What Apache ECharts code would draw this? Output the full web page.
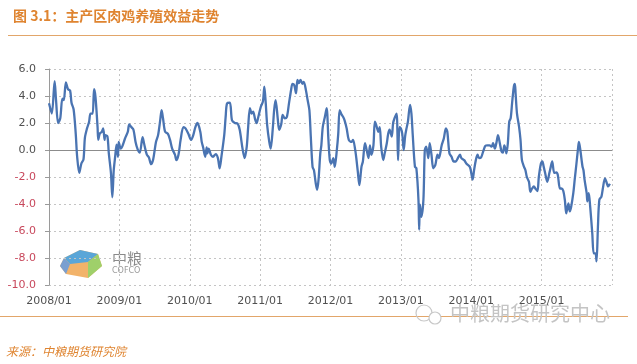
<!DOCTYPE html>
<html><head><meta charset="utf-8">
<script src="https://cdn.jsdelivr.net/npm/echarts@6/dist/echarts.min.js"></script>
<style>html,body{margin:0;padding:0;background:#fff}#c{width:637px;height:364px}</style>
</head><body><div id="c"></div>
<script>
const title = '图 3.1：主产区肉鸡养殖效益走势';
const source = '来源：中粮期货研究院';
const watermark = '中粮期货研究中心';
const yTicks = [6, 4, 2, 0, -2, -4, -6, -8, -10];
const xTickYears = [2008, 2009, 2010, 2011, 2012, 2013, 2014, 2015];
// decimal-year positions of points
const times = [
2008.00,2008.04,2008.08,2008.10,2008.13,2008.16,2008.19,2008.21,2008.24,2008.27,2008.30,2008.32,2008.35,2008.38,2008.40,2008.43,2008.46,2008.49,2008.51,2008.54,2008.57,2008.59,2008.62,2008.64,2008.66,2008.69,2008.70,2008.72,2008.75,2008.77,2008.79,2008.80,2008.83,2008.85,2008.88,2008.90,2008.92,2008.94,2008.96,2008.98,2008.99,
2009.02,2009.04,2009.08,2009.12,2009.14,2009.17,2009.20,2009.23,2009.26,2009.29,2009.33,2009.35,2009.39,2009.42,2009.45,2009.48,2009.52,2009.55,2009.58,2009.60,2009.62,2009.65,2009.69,2009.72,2009.75,2009.79,2009.81,2009.84,2009.87,2009.91,2009.94,2009.98,
2010.02,2010.05,2010.08,2010.11,2010.15,2010.17,2010.19,2010.22,2010.24,2010.25,2010.27,2010.30,2010.33,2010.37,2010.40,2010.425,2010.45,2010.49,2010.51,2010.53,2010.57,2010.60,2010.64,2010.68,2010.71,2010.75,2010.78,2010.81,2010.83,2010.855,2010.88,2010.90,2010.93,2010.95,2010.97,
2011.01,2011.04,2011.06,2011.08,2011.10,2011.13,2011.15,2011.18,2011.20,2011.22,2011.25,2011.27,2011.30,2011.32,2011.35,2011.38,2011.41,2011.44,2011.46,2011.485,2011.51,2011.53,2011.55,2011.575,2011.60,2011.62,2011.65,2011.675,2011.70,2011.72,2011.745,2011.765,2011.79,2011.81,2011.83,2011.855,2011.87,2011.89,2011.92,2011.945,2011.97,2011.99,
2012.01,2012.04,2012.06,2012.09,2012.11,2012.13,2012.16,2012.18,2012.20,2012.23,2012.26,2012.30,2012.32,2012.35,2012.37,2012.39,2012.41,2012.44,2012.46,2012.49,2012.51,2012.54,2012.56,2012.58,2012.61,2012.63,2012.65,2012.68,2012.70,2012.72,2012.75,2012.77,2012.80,2012.82,2012.84,2012.87,2012.89,2012.91,2012.94,2012.95,2012.96,2012.98,
2013.00,2013.02,2013.04,2013.06,2013.08,2013.10,2013.13,2013.15,2013.17,2013.20,2013.22,2013.25,2013.26,2013.27,2013.29,2013.32,2013.34,2013.36,2013.39,2013.41,2013.435,2013.46,2013.49,2013.52,2013.54,2013.58,2013.61,2013.64,2013.66,2013.69,2013.72,2013.75,2013.78,2013.81,2013.84,2013.86,2013.90,2013.93,2013.98,
2014.00,2014.02,2014.04,2014.065,2014.09,2014.11,2014.14,2014.17,2014.20,2014.23,2014.26,2014.29,2014.31,2014.335,2014.36,2014.38,2014.406,2014.43,2014.45,2014.47,2014.49,2014.50,2014.52,2014.54,2014.56,2014.58,2014.605,2014.62,2014.63,2014.65,2014.68,2014.70,2014.72,2014.75,2014.77,2014.79,2014.82,2014.84,2014.865,2014.89,2014.91,2014.94,2014.96,2014.99,
2015.01,2015.03,2015.05,2015.08,2015.11,2015.13,2015.15,2015.18,2015.21,2015.23,2015.26,2015.28,2015.306,2015.33,2015.35,2015.38,2015.40,2015.42,2015.45,2015.47,2015.495,2015.52,2015.53,2015.55,2015.58,2015.595,2015.61,2015.64,2015.65,2015.67,2015.69,2015.72,2015.74,2015.765,2015.78,2015.80,2015.82,2015.85,2015.87,2015.90,2015.92,2015.945,2015.97
];
const values = [
3.46,2.7,5.1,3.7,2.0,2.35,3.8,3.7,5.0,4.5,4.4,3.5,3.0,1.2,-0.5,-1.7,-1.0,-0.7,0.9,1.6,2.1,2.7,2.7,4.5,3.95,1.7,0.75,1.2,1.35,1.6,0.75,1.1,1.0,-0.25,-1.7,-3.5,-1.5,-0.5,0.4,-0.5,0.6,
0.1,0.25,0.85,1.35,1.9,1.7,1.5,0.6,0.05,-0.2,0.95,0.5,-0.35,-0.55,-1.05,-0.7,0.6,1.1,2.2,2.95,2.35,1.35,1.2,0.75,0.1,-0.35,-0.75,-0.35,0.75,1.7,1.6,1.2,
0.75,1.1,1.7,2.0,1.35,0.6,0.2,-0.5,0.2,-0.25,0.1,-0.35,-0.5,-0.3,-0.6,-1.35,-0.5,1.1,2.45,3.45,3.5,2.2,2.0,1.95,1.5,0.1,-0.6,0.25,1.7,3.1,2.7,2.85,2.25,2.0,2.35,
3.2,3.6,4.7,3.45,1.85,0.6,0.1,1.6,3.0,3.7,2.35,1.5,1.9,2.6,2.35,2.45,3.45,4.45,4.9,4.8,4.2,5.2,4.95,5.2,4.9,5.05,4.45,3.7,2.95,1.0,-1.25,-1.5,-2.45,-2.95,-2.2,-0.25,0.35,1.7,2.45,3.1,0.8,-0.75,
-1.0,-0.6,-1.25,0,1.2,2.95,2.6,2.45,2.2,1.6,0.75,0.6,0.75,0.05,-0.75,-1.7,-2.6,-1.25,-0.85,0.5,0.1,-0.6,0.35,-0.35,0.35,2.1,1.85,1.35,1.7,0.25,-0.75,-0.25,0.5,1.2,1.5,1.0,2.0,2.35,2.7,1.5,-0.75,1.7,
1.6,1.2,0,1.0,1.6,2.1,3.35,2.7,1.0,-1.25,-1.35,-3.7,-5.9,-4.05,-4.95,-3.7,0,0.25,-0.6,0.5,-0.35,-1.35,-1.1,-0.35,-0.6,0.35,0.85,1.6,1.35,-0.25,-0.5,-0.85,-0.85,-0.6,-0.35,-0.6,-0.75,-1.0,-1.25,
-1.7,-2.2,-1.5,-0.75,-0.35,-0.6,-0.55,-0.1,0.3,0.35,0.35,0.25,0.5,0.1,0.6,1.1,0.5,-0.1,-0.2,0.35,0,-0.25,0.5,2.1,2.35,3.45,4.7,4.9,4.2,2.7,1.7,0.75,-0.75,-1.25,-1.5,-2.0,-2.35,-3.1,-2.85,-2.7,-2.85,-3.05,-2.0,-1.0,
-0.85,-1.25,-1.7,-2.35,-1.7,-1.25,-0.85,-1.7,-1.65,-1.85,-2.85,-2.85,-3.0,-3.7,-4.7,-3.95,-4.55,-4.2,-3.2,-2.2,-1.0,0.25,0.6,0,-1.2,-1.5,-2.2,-3.2,-3.8,-3.2,-4.2,-6.2,-7.65,-7.65,-8.25,-5.7,-3.7,-3.45,-2.85,-2.1,-2.35,-2.7,-2.5
];

const data = times.map((t, i) => [t, values[i]]);
const chart = echarts.init(document.getElementById('c'), null, {renderer: 'canvas'});
const orange = '#df8430';
chart.setOption({
  animation: false,
  backgroundColor: '#ffffff',
  grid: {left: 49, right: 25, top: 69, bottom: 79, containLabel: false},
  xAxis: {
    type: 'value', min: xTickYears[0], max: xTickYears[xTickYears.length - 1] + 1, interval: 1,
    axisLine: {show: false}, axisTick: {show: false},
    axisLabel: {
      color: '#505050', fontFamily: 'DejaVu Sans', fontSize: 11, margin: 11,
      formatter: v => xTickYears.indexOf(v) >= 0 ? v + '/01' : ''
    },
    splitLine: {show: true, lineStyle: {color: '#c4c4c4', type: [2, 3], width: 1}}
  },
  yAxis: {
    type: 'value', min: yTicks[yTicks.length - 1], max: yTicks[0], interval: 2,
    axisLine: {show: true, lineStyle: {color: '#9a9a9a', width: 1}},
    axisTick: {show: true, length: 4, lineStyle: {color: '#9a9a9a'}},
    axisLabel: {
      fontFamily: 'DejaVu Sans', fontSize: 11, margin: 13,
      formatter: v => (v < 0 ? '{n|' : '{p|') + v.toFixed(1) + '}',
      rich: {p: {color: '#505050', fontFamily: 'DejaVu Sans', fontSize: 11},
             n: {color: '#c8485c', fontFamily: 'DejaVu Sans', fontSize: 11}}
    },
    splitLine: {show: true, lineStyle: {color: '#c4c4c4', type: [2, 3], width: 1}}
  },
  series: [{
    type: 'line', data: data, showSymbol: false, smooth: 0.3,
    lineStyle: {color: '#4a74b2', width: 2.3},
    itemStyle: {color: '#4a74b2'},
    z: 5,
    markLine: {
      silent: true, symbol: 'none', label: {show: false},
      lineStyle: {color: '#8c8c8c', type: 'solid', width: 1},
      data: [{yAxis: 0}], z: 3
    }
  }],
  graphic: [
    {type: 'text', left: 13, top: 9, style: {text: title, fill: orange, font: 'bold 14px "Noto Sans CJK SC"'}},
    {type: 'line', shape: {x1: 8, y1: 35.5, x2: 637, y2: 35.5}, style: {stroke: '#e2a66a', lineWidth: 1.2}},
    {type: 'line', shape: {x1: 0, y1: 316.5, x2: 628, y2: 316.5}, style: {stroke: '#e2a66a', lineWidth: 1.2}},
    {type: 'text', left: 6, top: 345, style: {text: source, fill: orange, font: 'italic 12px "Noto Sans CJK SC"'}},
    {type: 'text', left: 450, top: 303, style: {text: watermark, fill: '#c4c4c4', font: '20px "Noto Sans CJK SC"'}},
    {type: 'circle', shape: {cx: 424, cy: 313, r: 8}, style: {fill: 'none', stroke: '#c8c8c8', lineWidth: 1.2}},
    {type: 'circle', shape: {cx: 435, cy: 318, r: 6}, style: {fill: '#fff', stroke: '#c8c8c8', lineWidth: 1.2}},
    // COFCO logo
    {type: 'polygon', shape: {points: [[64,258],[80,250],[98,254],[102,266],[88,278],[66,274],[60,266]]}, style: {fill: '#f2b36a'}},
    {type: 'polygon', shape: {points: [[64,258],[80,250],[98,254],[88,262],[70,264]]}, style: {fill: '#5aa6d8'}},
    {type: 'polygon', shape: {points: [[88,262],[98,254],[102,266],[88,278]]}, style: {fill: '#9fd06a'}},
    {type: 'polygon', shape: {points: [[60,266],[64,258],[70,264],[66,274]]}, style: {fill: '#7a9fd0'}},
    {type: 'text', left: 112, top: 251, style: {text: '中粮', fill: '#8a8a8a', font: '15px "Noto Sans CJK SC"'}},
    {type: 'text', left: 112, top: 267, style: {text: 'COFCO', fill: '#9a9a9a', font: '8px "DejaVu Sans"'}}
  ]
});
</script></body></html>
